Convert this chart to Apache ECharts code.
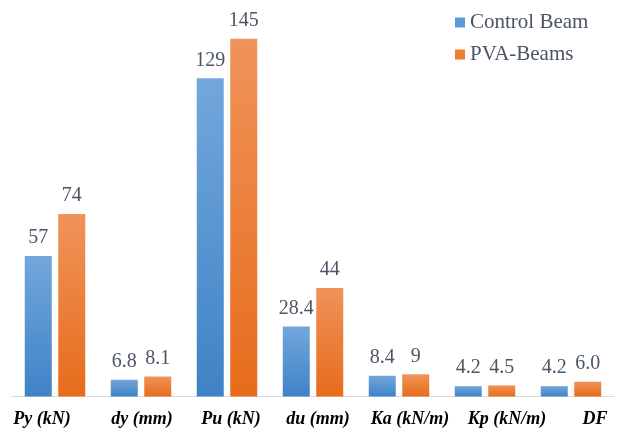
<!DOCTYPE html>
<html>
<head>
<meta charset="utf-8">
<script src="https://cdn.jsdelivr.net/npm/echarts@6/dist/echarts.min.js"></script>
<style>
html,body{margin:0;padding:0;background:#fff;}
#c{width:620px;height:433px;}
</style>
</head>
<body>
<div id="c"></div>
<script>
// ---- data ----
const categories = ['Py (kN)', 'dy (mm)', 'Pu (kN)', 'du (mm)', 'Ka (kN/m)', 'Kp (kN/m)', 'DF'];
const seriesNames = ['Control Beam', 'PVA-Beams'];
const controlValues = [57, 6.8, 129, 28.4, 8.4, 4.2, 4.2];
const pvaValues = [74, 8.1, 145, 44, 9, 4.5, 6.0];
const controlText = ['57', '6.8', '129', '28.4', '8.4', '4.2', '4.2'];
const pvaText = ['74', '8.1', '145', '44', '9', '4.5', '6.0'];

// ---- style ----
const labelShift = [-13, 1, 4, 5, 11, 22, 24]; // horizontal shift of category labels (px)
const serif = 'Liberation Serif';
const textGray = '#4b5565';

const rich = {};
labelShift.forEach((s, i) => {
  rich['c' + i] = {
    fontFamily: serif, fontSize: 18, fontWeight: 'bold', fontStyle: 'italic', color: '#000',
    padding: s >= 0 ? [0, 0, 0, 2 * s] : [0, -2 * s, 0, 0]
  };
});

function grad(top, bottom) {
  return new echarts.graphic.LinearGradient(0, 0, 0, 1, [
    { offset: 0, color: top }, { offset: 1, color: bottom }
  ]);
}

const chart = echarts.init(document.getElementById('c'), null, { renderer: 'canvas' });
chart.setOption({
  backgroundColor: '#fff',
  animation: false,
  textStyle: { fontFamily: serif },
  grid: { left: 12, right: 6, top: 26.5, bottom: 36.5 },
  legend: {
    orient: 'vertical', left: 455, top: 12, padding: 0,
    itemWidth: 10, itemHeight: 10, itemGap: 11, icon: 'rect',
    textStyle: { fontFamily: serif, fontSize: 21, color: textGray },
    data: [
      { name: seriesNames[0], itemStyle: { color: '#5b9bd5' } },
      { name: seriesNames[1], itemStyle: { color: '#ed7d31' } }
    ]
  },
  xAxis: {
    type: 'category', data: categories,
    axisLine: { lineStyle: { color: '#d9d9d9', width: 1 } },
    axisTick: { show: false },
    axisLabel: {
      interval: 0, margin: 14,
      formatter: (v, i) => '{c' + i + '|' + v + '}',
      rich: rich
    }
  },
  yAxis: { type: 'value', min: 0, max: 150, show: false, splitLine: { show: false } },
  series: [
    {
      name: seriesNames[0], type: 'bar', data: controlValues,
      barWidth: 27, barGap: '24%',
      itemStyle: { color: grad('#72a7dc', '#3e83c6') },
      label: {
        show: true, position: 'top', distance: 8,
        fontFamily: serif, fontSize: 20, color: textGray,
        formatter: p => controlText[p.dataIndex]
      }
    },
    {
      name: seriesNames[1], type: 'bar', data: pvaValues,
      barWidth: 27, barGap: '24%',
      itemStyle: { color: grad('#f0935a', '#e76c1b') },
      label: {
        show: true, position: 'top', distance: 8,
        fontFamily: serif, fontSize: 20, color: textGray,
        formatter: p => pvaText[p.dataIndex]
      }
    }
  ]
});
</script>
</body>
</html>
